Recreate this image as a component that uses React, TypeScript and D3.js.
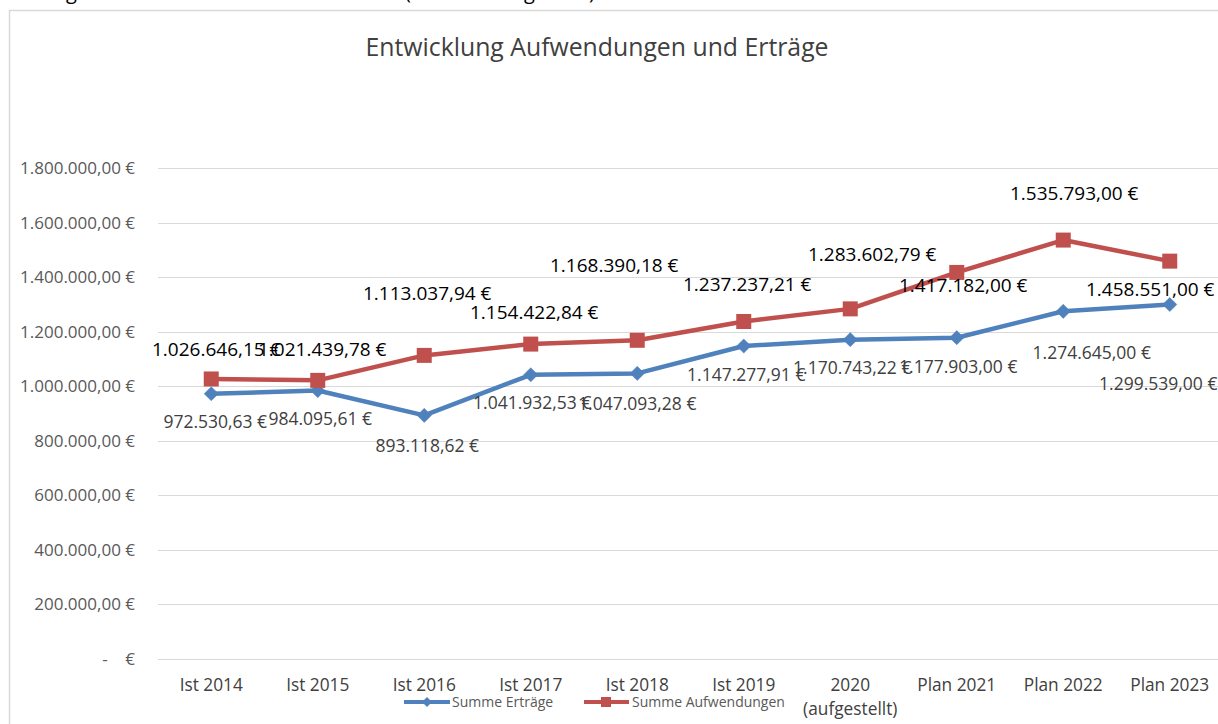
import React from "react";
import * as d3 from "d3";

const categories = [
  "Ist 2014", "Ist 2015", "Ist 2016", "Ist 2017", "Ist 2018", "Ist 2019",
  "2020\n(aufgestellt)", "Plan 2021", "Plan 2022", "Plan 2023",
];
const ertraege = [
  972530.63, 984095.61, 893118.62, 1041932.53, 1047093.28, 1147277.91,
  1170743.22, 1177903.0, 1274645.0, 1299539.0,
];
const aufwendungen = [
  1026646.15, 1021439.78, 1113037.94, 1154422.84, 1168390.18, 1237237.21,
  1283602.79, 1417182.0, 1535793.0, 1458551.0,
];
const yTicks = [0, 200000, 400000, 600000, 800000, 1000000, 1200000, 1400000, 1600000, 1800000];

// label placement (pixel offsets from the marker), layout only
const ertraegeLabelOffsets: [number, number][] = [
  [4, 28], [2.5, 28], [3, 30], [1.5, 28], [0, 30], [2.5, 29], [2, 28], [1.5, 29], [28.5, 42], [-11.5, 79],
];
const aufwendungenLabelOffsets: [number, number][] = [
  [5, -30], [4.5, -31], [3, -62], [3.5, -32], [-23, -75], [3.5, -37.5], [22, -55], [6.5, 12.6], [11, -47], [-19.5, 28],
];

const W = 1218;
const H = 724;
const BLUE = "#4F81BD";
const RED = "#C0504D";
const FONT = "'Open Sans', 'Noto Sans', sans-serif";

const locale = d3.formatLocale({ decimal: ",", thousands: ".", grouping: [3], currency: ["", " €"] });
const fmt = (v: number) => locale.format(",.2f")(v) + " €";

export default function App() {
  const x = d3.scalePoint<string>().domain(categories).range([158, 1223]).padding(0.5);
  const y = d3.scaleLinear().domain([0, 1800000]).range([659, 168]);

  const line = d3
    .line<number>()
    .x((_, i) => x(categories[i]) as number)
    .y((d) => y(d));

  return (
    <div style={{ position: "absolute", left: 0, top: 0, width: W, height: H, overflow: "hidden" }}>
      <svg width={W} height={H} style={{ display: "block", background: "#fff" }} fontFamily={FONT}>
        {/* cut-off text above the chart */}
        <g fontSize={20} fill="#000">
          <text x={66} y={-1}>g</text>
          <text x={405} y={-1}>(</text>
          <text x={524} y={-1}>g</text>
          <text x={589} y={-1}>)</text>
        </g>
        <rect x={9.5} y={10.5} width={1240} height={760} fill="#fff" stroke="#d9d9d9" strokeWidth={1.5} />

        <text x={597} y={56} textAnchor="middle" fontSize={24.8} fill="#404040">
          Entwicklung Aufwendungen und Erträge
        </text>

        {/* gridlines */}
        {yTicks.map((t) => (
          <line key={t} x1={158} x2={1230} y1={Math.round(y(t)) + 0.5} y2={Math.round(y(t)) + 0.5} stroke="#d9d9d9" strokeWidth={1} />
        ))}

        {/* y tick labels */}
        {yTicks.map((t) => (
          <text
            key={"l" + t}
            x={135}
            y={y(t)}
            dy="0.35em"
            textAnchor="end"
            fontSize={17}
            fill="#595959"
            style={{ whiteSpace: "pre" }}
          >
            {t === 0 ? "-    €" : fmt(t)}
          </text>
        ))}

        {/* x labels */}
        {categories.map((c) => {
          const parts = c.split("\n");
          return (
            <text key={c} x={x(c)} y={691} textAnchor="middle" fontSize={17.3} fill="#404040">
              {parts.map((p, i) => (
                <tspan key={i} x={x(c)} dy={i === 0 ? 0 : 24}>
                  {p}
                </tspan>
              ))}
            </text>
          );
        })}

        {/* lines */}
        <path d={line(ertraege) || ""} fill="none" stroke={BLUE} strokeWidth={4.5} strokeLinejoin="round" />
        <path d={line(aufwendungen) || ""} fill="none" stroke={RED} strokeWidth={4.5} strokeLinejoin="round" />

        {/* markers */}
        {ertraege.map((v, i) => {
          const cx = x(categories[i]) as number;
          const cy = y(v);
          return (
            <rect
              key={"m1" + i}
              x={cx - 5}
              y={cy - 5}
              width={10}
              height={10}
              fill={BLUE}
              stroke={BLUE}
              strokeWidth={0.5}
              transform={`rotate(45 ${cx} ${cy})`}
            />
          );
        })}
        {aufwendungen.map((v, i) => {
          const cx = x(categories[i]) as number;
          const cy = y(v);
          return <rect key={"m2" + i} x={cx - 7.5} y={cy - 7.5} width={15} height={15} fill={RED} />;
        })}

        {/* data labels */}
        {ertraege.map((v, i) => (
          <text
            key={"d1" + i}
            x={(x(categories[i]) as number) + ertraegeLabelOffsets[i][0]}
            y={y(v) + ertraegeLabelOffsets[i][1]}
            dy="0.35em"
            textAnchor="middle"
            fontSize={17.5}
            fill="#404040"
          >
            {fmt(v)}
          </text>
        ))}
        {aufwendungen.map((v, i) => (
          <text
            key={"d2" + i}
            x={(x(categories[i]) as number) + aufwendungenLabelOffsets[i][0]}
            y={y(v) + aufwendungenLabelOffsets[i][1]}
            dy="0.35em"
            textAnchor="middle"
            fontSize={19}
            fill="#000"
          >
            {fmt(v)}
          </text>
        ))}

        {/* legend */}
        <g>
          <line x1={404} x2={450} y1={702} y2={702} stroke={BLUE} strokeWidth={4} />
          <rect x={427 - 3.5} y={702 - 3.5} width={7} height={7} fill={BLUE} transform={`rotate(45 427 702)`} />
          <text x={452} y={702} dy="0.35em" fontSize={14} fill="#595959">Summe Erträge</text>
          <line x1={584} x2={629} y1={702} y2={702} stroke={RED} strokeWidth={4} />
          <rect x={606 - 5} y={702 - 5} width={10} height={10} fill={RED} />
          <text x={632} y={702} dy="0.35em" fontSize={14} fill="#595959">Summe Aufwendungen</text>
        </g>
      </svg>
    </div>
  );
}
